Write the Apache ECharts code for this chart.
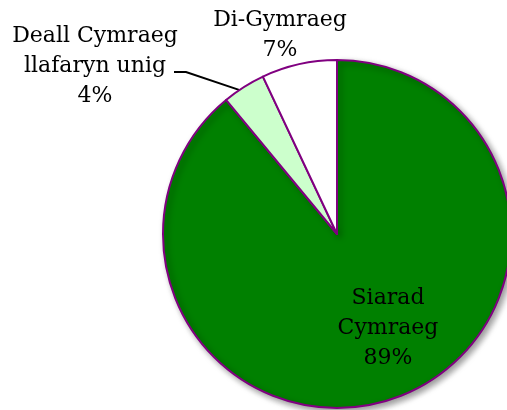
<!DOCTYPE html>
<html lang="en">
<head>
    <meta charset="UTF-8">
    <title>Siarad Cymraeg</title>
    <script src="https://cdn.jsdelivr.net/npm/echarts@6/dist/echarts.min.js"></script>
    <style>
        html, body {margin: 0; padding: 0; background: #fff;}
        #chart {width: 507px; height: 410px;}
    </style>
</head>
<body>
<div id="chart"></div>
<script>
    // data
    let names = ["Siarad\nCymraeg", "Deall Cymraeg\nllafaryn unig", "Di-Gymraeg"];
    let values = [89, 4, 7];
    let colors = ["#008000", "#ccffcc", "#ffffff"];

    // where each label sits (centre of text block)
    let labelPos = [[388, 328], [95, 66], [280, 35]];

    let myChart = echarts.init(document.getElementById("chart"));

    let data = names.map(function (n, i) {
        let item = {
            name: n,
            value: values[i],
            itemStyle: {color: colors[i]},
            labelLine: {show: i === 1}
        };
        // only the big slice casts the shadow, the small ones sit at the top
        if (i === 0) {
            item.itemStyle.shadowColor = 'rgba(0,0,0,0.4)';
            item.itemStyle.shadowBlur = 6;
            item.itemStyle.shadowOffsetX = 3;
            item.itemStyle.shadowOffsetY = 3;
        }
        return item;
    });

    myChart.setOption({
        animation: false,
        series: [{
            type: 'pie',
            center: [337, 234],
            radius: 174,
            startAngle: 90,
            clockwise: true,
            data: data,
            itemStyle: {
                borderColor: '#800080',
                borderWidth: 2
            },
            label: {
                position: 'outside',
                formatter: '{b}\n{c}%',
                fontFamily: 'DejaVu Serif',
                fontSize: 22,
                lineHeight: 30,
                color: '#000',
                align: 'center',
                width: 220,
                overflow: 'none'
            },
            labelLine: {
                lineStyle: {color: '#000', width: 2}
            },
            labelLayout: function (p) {
                let pos = labelPos[p.dataIndex];
                let out = {
                    x: pos[0],
                    y: pos[1],
                    align: 'center',
                    verticalAlign: 'middle'
                };
                if (p.dataIndex === 1 && p.labelLinePoints) {
                    let edge = p.labelLinePoints[0];
                    out.labelLinePoints = [[edge[0] - 4, edge[1] + 3], [186, 72], [174, 72]];
                }
                return out;
            },
            emphasis: {disabled: true}
        }]
    });
</script>
</body>
</html>
